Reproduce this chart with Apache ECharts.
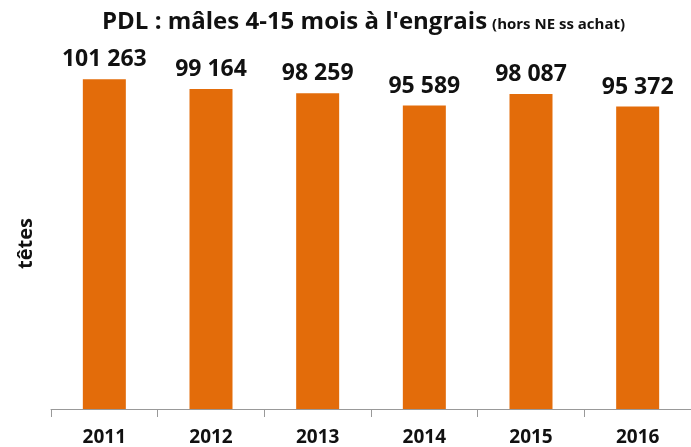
<!DOCTYPE html>
<html><head><meta charset="utf-8">
<script src="https://cdn.jsdelivr.net/npm/echarts@6/dist/echarts.min.js"></script>
<style>html,body{margin:0;padding:0;background:#fff}#c{width:691px;height:447px}</style>
</head><body><div id="c"></div>
<script>
const categories = ['2011','2012','2013','2014','2015','2016'];
const values = [101263, 99164, 98259, 95589, 98087, 95372];
const titleMain = "PDL : mâles 4-15 mois à l'engrais";
const titleSub = "(hors NE ss achat)";
const yName = "têtes";

const fmt = v => String(v).replace(/\B(?=(\d{3})+(?!\d))/g, ' ');
const FONT = 'Open Sans';
const chart = echarts.init(document.getElementById('c'));
chart.setOption({
  animation: false,
  title: {
    text: '{a|' + titleMain + '} {b|' + titleSub + '}',
    left: 97, top: 5,
    textStyle: {
      rich: {
        a: {fontFamily: FONT, fontWeight: 'bold', fontSize: 24, color: '#111'},
        b: {fontFamily: FONT, fontWeight: 'bold', fontSize: 15, color: '#111', padding: [5,0,0,0]}
      }
    }
  },
  grid: {left: 51, right: -4, top: 62, bottom: 35},
  xAxis: {
    type: 'category', data: categories,
    axisLine: {lineStyle: {color: '#999', width: 1}},
    axisTick: {show: true, length: 8, lineStyle: {color: '#999'}},
    axisLabel: {fontFamily: FONT, fontWeight: 'bold', fontSize: 19, color: '#111', margin: 19}
  },
  yAxis: {
    type: 'value', min: 30000, max: 105000,
    name: yName, nameLocation: 'middle', nameRotate: 90, nameGap: 15,
    nameTextStyle: {fontFamily: FONT, fontWeight: 'bold', fontSize: 20, color: '#111', padding: [0,16,0,0]},
    axisLine: {show: false}, axisTick: {show: false}, axisLabel: {show: false},
    splitLine: {show: false}
  },
  series: [{
    type: 'bar', data: values, barWidth: 43,
    itemStyle: {color: '#E36C0A'},
    label: {show: true, position: 'top', distance: 8, formatter: p => fmt(p.value),
      fontFamily: FONT, fontWeight: 'bold', fontSize: 23, color: '#111'}
  }]
});
</script></body></html>
